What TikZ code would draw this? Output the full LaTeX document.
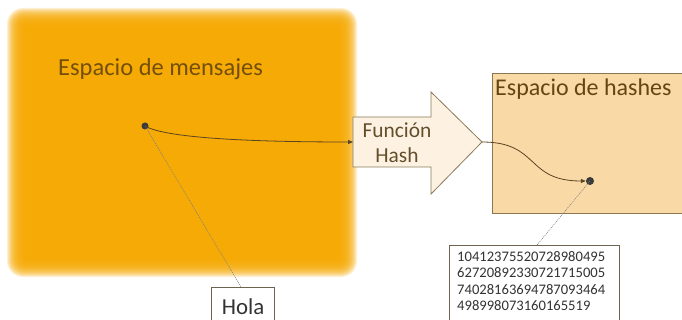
\documentclass[tikz,border=0pt]{standalone}
\usepackage{fontspec}
\setmainfont{Carlito}
\usetikzlibrary{arrows.meta}
\definecolor{orng}{HTML}{F5A800}
\definecolor{orngtxt}{HTML}{744F0C}
\definecolor{hashfill}{HTML}{F9D9A6}
\definecolor{hashdraw}{HTML}{8C7652}
\definecolor{hashtxt}{HTML}{634614}
\definecolor{arrfill}{HTML}{FDF2E2}
\definecolor{arrdraw}{HTML}{8A7A5A}
\definecolor{arrtxt}{HTML}{634E2C}
\definecolor{conn}{HTML}{5C4522}
\definecolor{boxdraw}{HTML}{6E6250}
\definecolor{dotc}{HTML}{3A3A3A}
\begin{document}
\begin{tikzpicture}[x=1pt,y=-1pt,
  conncurve/.style={draw=conn,line width=0.8pt,-{Triangle[length=5pt,width=4pt]}},
  leader/.style={draw=gray,line width=0.6pt,dash pattern=on 1pt off 1pt},
  labelbox/.style={draw=boxdraw,fill=white,line width=0.8pt,inner sep=0pt},
  ptdot/.style={circle,fill=dotc,inner sep=0pt,minimum size=7pt}]
\useasboundingbox (0,0) rectangle (682,320);
% soft orange message space
\foreach \i in {-10,-9,...,10}{
  \fill[orng,opacity=0.17,rounded corners={max(0.5,\i+10)*0.8pt}]
    (17-\i,18-\i) rectangle (347+\i,267+\i);
}
\node[anchor=base west,font=\fontsize{24.5}{28}\selectfont,text=orngtxt,inner sep=0pt] (msgtitle) at (58,76) {Espacio de mensajes};
% hash space
\fill[hashfill] (492,73) rectangle (684,213);
\draw[hashdraw,line width=0.9pt] (684,73) -- (492,73) -- (492,213) -- (684,213);
\node[anchor=base west,font=\fontsize{24}{28}\selectfont,text=hashtxt,inner sep=0pt] (hashtitle) at (495,96) {Espacio de hashes};
% function arrow
\draw[fill=arrfill,draw=arrdraw,line width=0.8pt,line join=miter]
  (353,117) -- (431,117) -- (431,92) -- (482,142) -- (431,194) -- (431,167) -- (353,167) -- cycle;
\node[align=center,font=\fontsize{21.4}{25}\selectfont,text=arrtxt,inner sep=0pt] (func) at (397,143) {Función\\Hash};
\coordinate (funcin) at (353,142);
\coordinate (funcout) at (482,142);
% dots
\node[ptdot] (msgdot) at (145,126) {};
\node[ptdot,minimum size=8pt] (hashdot) at (590,181) {};
% label boxes
\node[labelbox,anchor=north west,minimum width=63pt,minimum height=40pt] (holabox) at (211,287) {};
\node[anchor=base,font=\fontsize{22.8}{26}\selectfont,text=black!80,inner sep=0pt] (hola) at (243,314) {Hola};
\node[labelbox,anchor=north west,minimum width=170pt,minimum height=80pt] (numbox) at (449,245) {};
\node[anchor=north west,align=left,font=\fontsize{14.6}{16.6}\selectfont,text=black!80,inner sep=0pt] (nums) at (457,251)
  {10412375520728980495\\62720892330721715005\\74028163694787093464\\498998073160165519};
% leaders
\draw[leader] (msgdot.center) -- (241,287);
\draw[leader] (hashdot.center) -- (537,245);
% connectors
\draw[conncurve] (msgdot.center) .. controls (165,138) and (250,142) .. (funcin);
\draw[conncurve] (funcout) .. controls (540,142) and (525,181) .. (hashdot.west);
\end{tikzpicture}
\end{document}
